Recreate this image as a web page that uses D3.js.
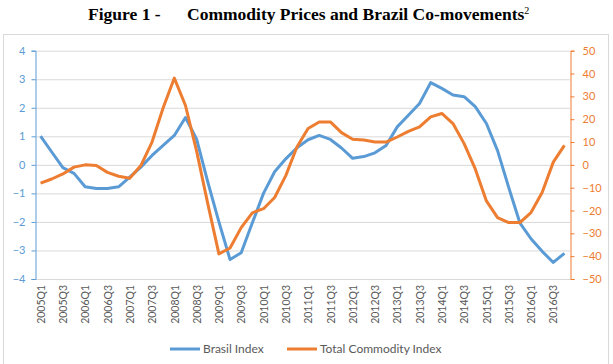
<!DOCTYPE html>
<html>
<head>
<meta charset="utf-8">
<script src="https://cdn.jsdelivr.net/npm/d3@7/dist/d3.min.js"></script>
<style>
  html, body { margin: 0; padding: 0; background: #fff; }
  svg { display: block; }
</style>
</head>
<body>
<svg id="chart" width="613" height="364"></svg>
<script>
const quarters = [
  "2005Q1","2005Q2","2005Q3","2005Q4","2006Q1","2006Q2","2006Q3","2006Q4",
  "2007Q1","2007Q2","2007Q3","2007Q4","2008Q1","2008Q2","2008Q3","2008Q4",
  "2009Q1","2009Q2","2009Q3","2009Q4","2010Q1","2010Q2","2010Q3","2010Q4",
  "2011Q1","2011Q2","2011Q3","2011Q4","2012Q1","2012Q2","2012Q3","2012Q4",
  "2013Q1","2013Q2","2013Q3","2013Q4","2014Q1","2014Q2","2014Q3","2014Q4",
  "2015Q1","2015Q2","2015Q3","2015Q4","2016Q1","2016Q2","2016Q3","2016Q4"
];
const brasilIndex = [
  1.01, 0.45, -0.1, -0.3, -0.77, -0.83, -0.83, -0.77,
  -0.43, -0.08, 0.33, 0.68, 1.03, 1.66, 0.9, -0.6,
  -2.0, -3.32, -3.08, -2.03, -1.0, -0.24, 0.21, 0.6,
  0.88, 1.03, 0.89, 0.59, 0.23, 0.29, 0.42, 0.68,
  1.33, 1.74, 2.15, 2.88, 2.68, 2.45, 2.39, 2.04,
  1.45, 0.5, -0.79, -2.03, -2.59, -3.03, -3.42, -3.1
];
const commodityIndex = [
  -8, -6.2, -4, -1, 0, -0.3, -3.3, -5,
  -5.9, -0.3, 10, 25, 38, 26, 6, -17,
  -39, -36.4, -27.5, -21, -19.2, -14.3, -4.7, 7.8,
  15.9, 18.8, 18.8, 14.1, 11.2, 10.9, 10, 10,
  12.2, 14.7, 16.6, 21, 22.5, 18.1, 9.3, -1.8,
  -15.8, -23.1, -25.3, -25.3, -20.9, -12.1, 1.2, 8.5
];
const leftTicks = [-4, -3, -2, -1, 0, 1, 2, 3, 4];
const rightTicks = [-50, -40, -30, -20, -10, 0, 10, 20, 30, 40, 50];
const seriesNames = ["Brasil Index", "Total Commodity Index"];

const BLUE = "#5b9bd5", ORANGE = "#ed7d31", GRID = "#d9d9d9", TXT = "#595959";
const FONT = "Lato, 'Open Sans', sans-serif";

const svg = d3.select("#chart");
const L = 35, R = 570, T = 50.7, B = 279;

// title
const title = svg.append("g").attr("font-family", "'Liberation Serif', 'Times New Roman', serif")
  .attr("font-weight", "bold").attr("font-size", 17.5).attr("fill", "#000");
title.append("text").attr("x", 88).attr("y", 20).text("Figure 1 -");
const t2 = title.append("text").attr("x", 187).attr("y", 20);
t2.append("tspan").text("Commodity Prices and Brazil Co-movements");
t2.append("tspan").attr("font-size", 10).attr("font-weight", "normal").attr("dy", -6).text("2");

// chart border
svg.append("rect").attr("x", 3.5).attr("y", 34.5).attr("width", 605).attr("height", 335)
  .attr("fill", "none").attr("stroke", "#d9d9d9");

const x = d3.scalePoint().domain(quarters).range([L, R]).padding(0.5);
const yL = d3.scaleLinear().domain([-4, 4]).range([B, T]);
const yR = d3.scaleLinear().domain([-50, 50]).range([B, T]);

// gridlines
svg.append("g").selectAll("line").data(leftTicks).join("line")
  .attr("x1", L).attr("x2", R).attr("y1", d => yL(d) + 0.5).attr("y2", d => yL(d) + 0.5)
  .attr("stroke", GRID).attr("stroke-width", 1);

// left axis
const axL = svg.append("g").attr("transform", `translate(${L + 0.5},0)`)
  .call(d3.axisLeft(yL).tickValues(leftTicks).tickSize(4).tickPadding(6).tickFormat(d3.format("d")));
axL.select(".domain").attr("stroke", BLUE);
axL.selectAll(".tick line").attr("stroke", BLUE);
axL.selectAll("text").attr("fill", BLUE).attr("font-family", FONT).attr("font-size", 11);

// right axis
const axR = svg.append("g").attr("transform", `translate(${R + 0.5},0)`)
  .call(d3.axisRight(yR).tickValues(rightTicks).tickSize(4).tickPadding(8).tickFormat(d3.format("d")));
axR.select(".domain").attr("stroke", ORANGE);
axR.selectAll(".tick line").attr("stroke", ORANGE);
axR.selectAll("text").attr("fill", ORANGE).attr("font-family", FONT).attr("font-size", 11);

// x axis labels (every other quarter)
const axX = svg.append("g").attr("transform", `translate(0,${B})`)
  .call(d3.axisBottom(x).tickValues(quarters.filter((d, i) => i % 2 === 0)).tickSize(0).tickPadding(0));
axX.select(".domain").remove();
axX.selectAll("text")
  .attr("fill", TXT).attr("font-family", FONT).attr("font-size", 10.5)
  .attr("text-anchor", "end").attr("transform", "translate(0,6) rotate(-90)")
  .attr("x", 0).attr("y", 0).attr("dy", "0.35em");

// lines
const lineL = d3.line().x((d, i) => x(quarters[i])).y(d => yL(d));
const lineR = d3.line().x((d, i) => x(quarters[i])).y(d => yR(d));
svg.append("path").datum(brasilIndex).attr("d", lineL)
  .attr("fill", "none").attr("stroke", BLUE).attr("stroke-width", 3).attr("stroke-linejoin", "round");
svg.append("path").datum(commodityIndex).attr("d", lineR)
  .attr("fill", "none").attr("stroke", ORANGE).attr("stroke-width", 3).attr("stroke-linejoin", "round");

// legend
const legend = svg.append("g").attr("font-family", FONT).attr("font-size", 12).attr("fill", TXT);
const legItems = [
  {name: seriesNames[0], color: BLUE, x0: 170},
  {name: seriesNames[1], color: ORANGE, x0: 287}
];
legItems.forEach(it => {
  legend.append("line").attr("x1", it.x0).attr("x2", it.x0 + 30).attr("y1", 349).attr("y2", 349)
    .attr("stroke", it.color).attr("stroke-width", 3);
  legend.append("text").attr("x", it.x0 + 33).attr("y", 349).attr("dy", "0.35em").text(it.name);
});
</script>
</body>
</html>
